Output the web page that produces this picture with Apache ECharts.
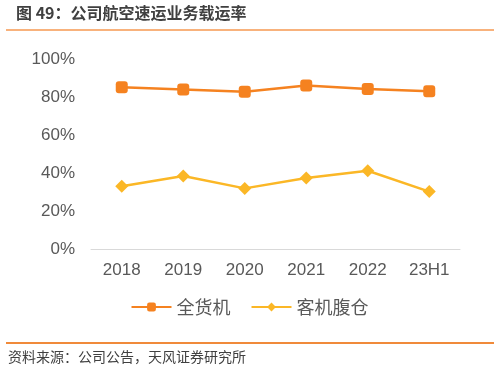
<!DOCTYPE html>
<html><head><meta charset="utf-8">
<script src="https://cdn.jsdelivr.net/npm/echarts@6/dist/echarts.min.js"></script>
<style>html,body{margin:0;padding:0;background:#fff}#c{width:499px;height:371px}</style>
</head><body><div id="c"></div>
<script>
const categories = ['2018','2019','2020','2021','2022','23H1'];
const freighter = [85.1, 84.0, 82.8, 86.0, 84.2, 83.0];
const belly = [33.0, 38.4, 31.9, 37.4, 41.2, 30.2];
const yTicks = [0, 20, 40, 60, 80, 100];

const chart = echarts.init(document.getElementById('c'));
const font = '"Noto Sans CJK SC", "Microsoft YaHei", sans-serif';
chart.setOption({
  animation: false,
  textStyle: {fontFamily: font},
  graphic: [
    {type:'text', left: 16, top: 5, style:{text:'图 49：公司航空速运业务载运率', font:'bold 16px ' + font, fill:'#404040'}},
    {type:'rect', shape:{x:6, y:29, width:488, height:2}, style:{fill:'#F8B27C'}},
    {type:'rect', shape:{x:6, y:342, width:488, height:2}, style:{fill:'#F08A3A'}},
    {type:'text', left: 8, top: 350, style:{text:'资料来源：公司公告，天风证券研究所', font:'14px ' + font, fill:'#404040'}}
  ],
  grid: {left: 91, right: 39, top: 59, bottom: 122},
  legend: {
    bottom: 50, left: 'center', itemWidth: 40, itemHeight: 11, itemGap: 20,
    textStyle: {fontSize: 18, color: '#595959', fontFamily: font},
    data: ['全货机', '客机腹仓']
  },
  xAxis: {
    type: 'category', data: categories, boundaryGap: true,
    axisLine: {lineStyle: {color: '#D9D9D9', width: 1}},
    axisTick: {show: false},
    axisLabel: {color: '#595959', fontSize: 17, margin: 13, fontFamily: 'Liberation Sans, Arial, sans-serif'}
  },
  yAxis: {
    type: 'value', min: yTicks[0], max: yTicks[yTicks.length-1], interval: 20,
    axisLine: {show: false}, axisTick: {show: false}, splitLine: {show: false},
    axisLabel: {color: '#595959', fontSize: 17, margin: 16, formatter: v => v + '%', fontFamily: 'Liberation Sans, Arial, sans-serif'}
  },
  series: [
    {name:'全货机', type:'line', data: freighter, symbol:'roundRect', symbolSize: 12,
     itemStyle:{color:'#F58220'}, lineStyle:{color:'#F58220', width: 2.5}},
    {name:'客机腹仓', type:'line', data: belly, symbol:'diamond', symbolSize: 13,
     itemStyle:{color:'#FBB726'}, lineStyle:{color:'#FBB726', width: 2.5}}
  ]
});
</script></body></html>
